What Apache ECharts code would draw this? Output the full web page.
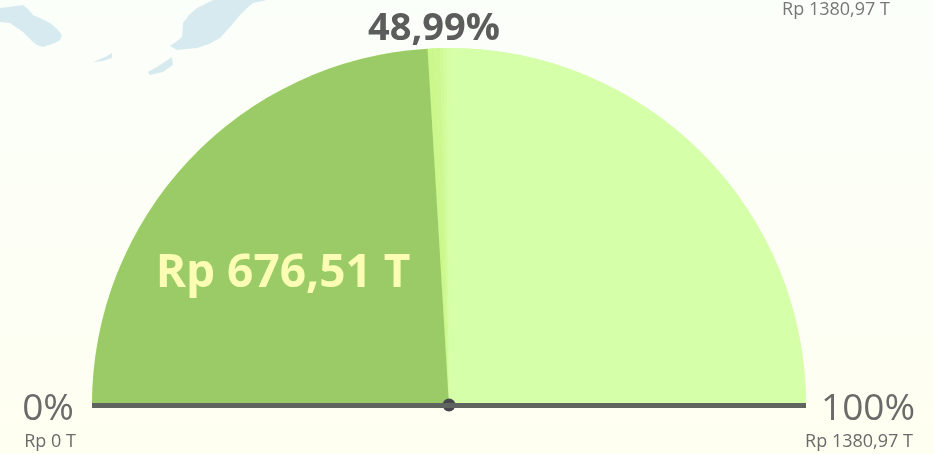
<!DOCTYPE html>
<html>
<head>
<meta charset="utf-8">
<style>
  html, body { margin: 0; padding: 0; }
  #main { width: 934px; height: 454px; }
</style>
<script src="https://cdn.jsdelivr.net/npm/echarts@6/dist/echarts.min.js"></script>
</head>
<body>
<div id="main"></div>
<script>
// gauge values
var gaugeMin = 0;
var gaugeMax = 1380.97;
var gaugeValue = 676.51;

// texts
var valueLabel = "Rp 676,51 T";
var percentLabel = "48,99%";
var minLabels = ["0%", "Rp 0 T"];
var maxLabels = ["100%", "Rp 1380,97 T"];
var cornerLabel = "Rp 1380,97 T";

// faded map shapes behind the chart
var mapShapes = [
    [[0,8],[8,7],[15,6],[23,5],[28,9],[33,15],[42,19],[50,23],[57,29],[62,35],[60,40],[55,43],[43,47],[37,45],[33,42],[23,32],[10,23],[0,22]],
    [[213,0],[267,0],[253,3],[246,9],[240,15],[230,27],[220,38],[209,44],[197,48],[177,50],[170,46],[176,42],[182,37],[183,23],[189,15],[197,8]],
    [[148,72],[160,65],[172,57],[173,65],[163,72],[150,75]],
    [[93,62],[105,57],[112,53],[112,58],[103,61]]
];

var font = '"Open Sans", sans-serif';
var ratio = (gaugeValue - gaugeMin) / (gaugeMax - gaugeMin);

function label(x, y, text, size, color, align, weight) {
    return {
        type: "text",
        x: x,
        y: y,
        z: 5,
        style: {
            text: text,
            fill: color,
            font: (weight || "normal") + " " + size + "px " + font,
            textAlign: align,
            textVerticalAlign: "middle"
        }
    };
}

var elements = [];
// 背景地图
mapShapes.forEach(function(points) {
    elements.push({
        type: "polygon",
        z: -1,
        shape: { points: points },
        style: { fill: "#d7eaef" }
    });
});
// 底部横线
elements.push({
    type: "line",
    z: 4,
    shape: { x1: 92, y1: 405.5, x2: 806, y2: 405.5 },
    style: { stroke: "#60645f", lineWidth: 5 }
});
elements.push(label(434, 29, percentLabel, 38, "#5c5c5c", "center", "bold"));
elements.push(label(48, 409, minLabels[0], 37, "#6a6a6a", "center"));
elements.push(label(50, 442, minLabels[1], 18, "#6a6a6a", "center"));
elements.push(label(868, 409, maxLabels[0], 37, "#6a6a6a", "center"));
elements.push(label(859, 442, maxLabels[1], 18, "#6a6a6a", "center"));
elements.push(label(836, 10, cornerLabel, 18, "#777777", "center"));

// 两个仪表盘共用的设置
function gaugeBase(colors) {
    return {
        type: "gauge",
        center: [449, 405],
        radius: 357,
        startAngle: 180,
        endAngle: 0,
        min: gaugeMin,
        max: gaugeMax,
        axisLine: { lineStyle: { width: 357, color: colors } },
        axisTick: { show: false },
        splitLine: { show: false },
        axisLabel: { show: false },
        pointer: { show: false },
        title: { show: false },
        detail: { show: false },
        data: [{ value: gaugeValue }]
    };
}

// 底层：整个半圆，避免色块之间露出白缝
var underGauge = gaugeBase([[1, "#d6ffa9"]]);
underGauge.z = 1;

// 上层：分界处有一条浅色的楔形
var mainGauge = gaugeBase([
    [ratio - 0.009, "#9bcb66"],
    [ratio - 0.003, "#cbf78c"],
    [ratio + 0.002, "#cdf890"],
    [ratio + 0.005, "#d0fa97"],
    [ratio + 0.008, "#d3fc9f"],
    [ratio + 0.011, "#d5fea5"],
    [1, "#d6ffa9"]
]);
mainGauge.z = 2;
mainGauge.anchor = {
    show: true,
    showAbove: true,
    size: 13,
    itemStyle: { color: "#46464e", borderWidth: 0 }
};
mainGauge.detail = {
    show: true,
    offsetCenter: [-166, -131],
    formatter: function() { return valueLabel; },
    color: "#fbfdb4",
    fontFamily: font,
    fontWeight: "bold",
    fontSize: 46
};

var myChart = echarts.init(document.getElementById("main"));
myChart.setOption({
    animation: false,
    backgroundColor: {
        type: "linear", x: 0, y: 0, x2: 0, y2: 1,
        colorStops: [
            { offset: 0, color: "#fbfffa" },
            { offset: 1, color: "#fffff1" }
        ]
    },
    graphic: elements,
    series: [underGauge, mainGauge]
});
</script>
</body>
</html>
